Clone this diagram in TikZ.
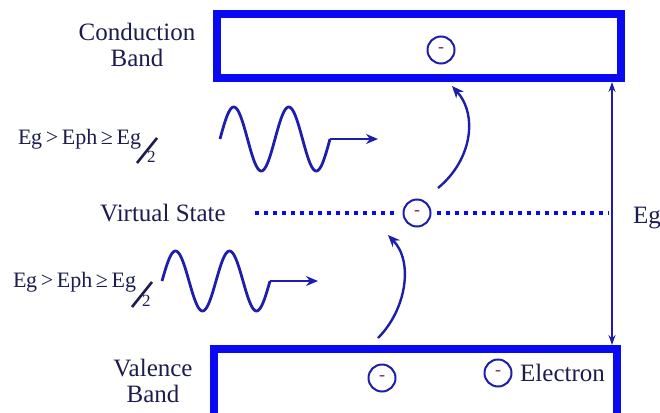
\documentclass[tikz,border=0pt]{standalone}
\usepackage{fontspec}
\setmainfont{Liberation Serif}
\newfontfamily\serf{Liberation Serif}
\usetikzlibrary{arrows.meta}
\definecolor{boxblue}{HTML}{0A0AF2}
\definecolor{navy}{HTML}{1E1EAA}
\definecolor{txt}{HTML}{1C1C4E}
\definecolor{minuscol}{HTML}{8A3A70}
\begin{document}
\begin{tikzpicture}[x=1pt,y=-1pt,
  band/.style={draw=boxblue, line width=8pt, inner sep=0pt},
  elec/.style={circle, draw=navy, line width=2pt, minimum size=27pt, inner sep=0pt,
     font=\serf\fontsize{18}{18}\selectfont\bfseries, text=minuscol},
  lbl/.style={text=txt, font=\serf\fontsize{25}{26}\selectfont, inner sep=0pt},
  frm/.style={text=txt, font=\serf\fontsize{22}{22}\selectfont, inner sep=0pt},
  two/.style={text=txt, font=\serf\fontsize{17}{17}\selectfont, inner sep=0pt},
  slashln/.style={draw=txt, line width=2.6pt},
  vsline/.style={draw=boxblue, line width=4pt, dash pattern=on 4pt off 5pt},
  wave/.style={draw=navy, line width=2.8pt},
  wavearrow/.style={draw=navy, line width=2.8pt, -{Stealth[length=12pt,width=10pt]}},
  curvearrow/.style={draw=navy, line width=2.4pt, -{Stealth[length=12pt,width=10pt]}},
  gaparrow/.style={draw=navy, line width=2pt, {Stealth[length=10pt,width=7pt]}-{Stealth[length=10pt,width=7pt]}}
]
\useasboundingbox (0,0) rectangle (660,412);
\clip (0,0) rectangle (660,412);

% bands
\node[band, minimum width=404pt, minimum height=64pt] (cb) at (419,46) {};
\node[band, minimum width=403pt, minimum height=91pt] (vb) at (415.5,394.5) {};

% electrons
\node[elec] (c1) at (441,50) {-};
\node[elec] (vs) at (417,213) {-};
\node[elec] (v1) at (382,378) {-};
\node[elec] (leg) at (498,373) {-};

% labels
\node[lbl, align=center] (cbl) at (137,45) {Conduction\\Band};
\node[lbl, align=center] (vbl) at (153,381) {Valence\\Band};
\node[lbl, anchor=base west] (vsl) at (100,221) {Virtual State};
\node[lbl, anchor=base west] (el) at (520,381) {Electron};
\node[lbl, anchor=base west] (egl) at (633,223) {Eg};

% virtual state line
\coordinate (vstart) at (255,213);
\coordinate (vend) at (608,213);
\draw[vsline] (vstart) -- ([xshift=-5pt]vs.west);
\draw[vsline] ([xshift=5pt]vs.east) -- (vend);

% band gap arrow
\coordinate (ex) at (612,0);
\draw[gaparrow] (cb.south -| ex) -- (vb.north -| ex);

% curved transitions
\coordinate (a1s) at (438,188);
\coordinate (a1e) at (452,86);
\draw[curvearrow] (a1s) .. controls (472,160) and (478,115) .. (a1e);
\coordinate (a2s) at (378,338);
\coordinate (a2e) at (388,235);
\draw[curvearrow] (a2s) .. controls (406,310) and (414,262) .. (a2e);

% upper photon
\draw[wave] plot[domain=0:110, samples=120] ({220+\x},{139-32*sin(6.54545*\x)});
\coordinate (w1a) at (330,139);
\coordinate (w1b) at (378,139);
\draw[wavearrow] (w1a) -- (w1b);

% lower photon
\draw[wave] plot[domain=0:108, samples=120] ({162+\x},{281-30*sin(6.66667*\x)});
\coordinate (w2a) at (270,281);
\coordinate (w2b) at (318,281);
\draw[wavearrow] (w2a) -- (w2b);

% formulas
\node[frm, anchor=base west] (f1) at (18,144) {E\kern-0.5pt g\,>\,Eph\,≥\,Eg};
\node[two, anchor=base west] (f1b) at (147,162) {2};
\coordinate (s1a) at (137,163);
\coordinate (s1b) at (157,138);
\draw[slashln] (s1a) -- (s1b);

\node[frm, anchor=base west] (f2) at (13,287) {E\kern-0.5pt g\,>\,Eph\,≥\,Eg};
\node[two, anchor=base west] (f2b) at (142,306) {2};
\coordinate (s2a) at (132,307);
\coordinate (s2b) at (152,282);
\draw[slashln] (s2a) -- (s2b);
\end{tikzpicture}
\end{document}
